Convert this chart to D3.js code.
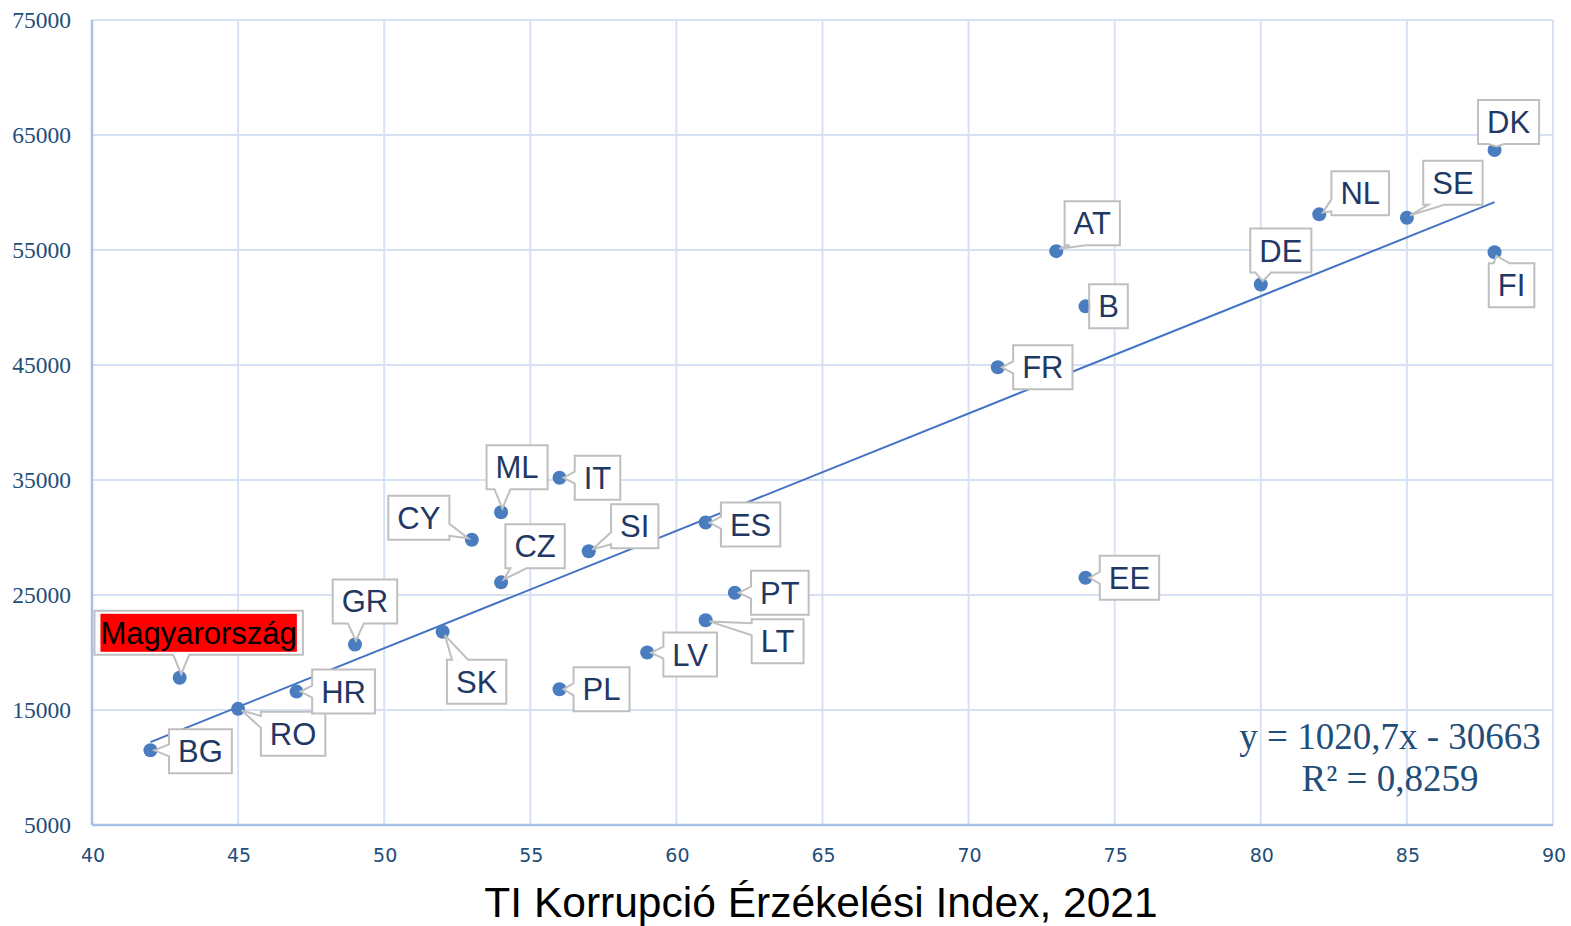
<!DOCTYPE html>
<html lang="hu">
  <head>
    <meta charset="UTF-8" />
    <title>GDP vs TI Korrupció Érzékelési Index</title>
    <script src="https://d3js.org/d3.v7.min.js"></script>
    <style>
      body { margin: 0; background: #fff; }
      .grid line { stroke: #d6e2f3; stroke-width: 2; }
      .tick-y text { font-family: 'Liberation Serif', 'Times New Roman', serif; font-size: 23.5px; fill: #1f4e79; }
      .tick-x text { font-family: 'DejaVu Sans', sans-serif; font-size: 19px; fill: #1f4e79; }
      .lbl { font-family: 'Liberation Sans', Arial, sans-serif; font-size: 31px; fill: #1f3864; }
    </style>
  </head>
  <body>
    <div id="chart"></div>
    <script>
      // data
      const countries = ['BG', 'Magyarország', 'RO', 'HR', 'GR', 'SK', 'CY', 'ML', 'CZ', 'IT', 'SI', 'PL', 'LV',
        'ES', 'PT', 'LT', 'FR', 'AT', 'B', 'EE', 'DE', 'NL', 'SE', 'DK', 'FI'];
      const cpi = [42, 43, 45, 47, 49, 52, 53, 54, 54, 56, 57, 56, 59, 61, 62, 61, 71, 73, 74, 74, 80, 82, 85, 88, 88];
      const gdp = [11500, 17800, 15100, 16600, 20700, 21800, 29800, 32200, 26100, 35200, 28800, 16800, 20000,
        31300, 25200, 22800, 44800, 54900, 50100, 26500, 52000, 58100, 57800, 63700, 54800];
      const xTicks = [40, 45, 50, 55, 60, 65, 70, 75, 80, 85, 90];
      const yTicks = [5000, 15000, 25000, 35000, 45000, 55000, 65000, 75000];
      const trendSlope = 1020.7;
      const trendIntercept = -30663;
      const trendRange = [42, 88];
      const eqLines = ['y = 1020,7x - 30663', 'R² = 0,8259'];
      const xTitle = 'TI Korrupció Érzékelési Index, 2021';
      const highlight = 'Magyarország';

      // label box placement: offset of box centre from point, and side the tail leaves from
      const labelPos = [
        [50, 1, 'left'], [19, -45, 'bottom'], [55, 25, 'left'], [47, 0, 'left'], [10, -43, 'bottom'],
        [34, 50, 'top'], [-53, -22, 'right'], [16, -45, 'bottom'], [34, -36, 'bottom'], [38, 0, 'left'],
        [46, -25, 'left'], [42, 0, 'left'], [43, 2, 'left'], [45, 2, 'left'], [45, 0, 'left'],
        [72, 21, 'left'], [45, 0, 'left'], [36, -28, 'bottom'], [23, 0, 'left'], [44, 0, 'left'],
        [20, -34, 'bottom'], [41, -21, 'left'], [46, -35, 'bottom'], [14, -28, 'bottom'], [17, 33, 'top'],
      ];

      const W = 1571, H = 926;
      const svg = d3.select('#chart').append('svg').attr('width', W).attr('height', H);

      const x = d3.scaleLinear().domain([40, 90]).range([92, 1553]);
      const y = d3.scaleLinear().domain([5000, 75000]).range([825, 20]);

      // gridlines
      const grid = svg.append('g').attr('class', 'grid');
      grid.selectAll('.gx').data(xTicks).enter().append('line')
        .attr('x1', d => x(d)).attr('x2', d => x(d)).attr('y1', y(75000)).attr('y2', y(5000));
      grid.selectAll('.gy').data(yTicks).enter().append('line')
        .attr('x1', x(40)).attr('x2', x(90)).attr('y1', d => y(d)).attr('y2', d => y(d));

      // axis lines
      svg.append('line').attr('x1', x(40)).attr('x2', x(40)).attr('y1', y(75000)).attr('y2', y(5000))
        .attr('stroke', '#a7c1e6').attr('stroke-width', 2.5);
      svg.append('line').attr('x1', x(40)).attr('x2', x(90)).attr('y1', y(5000)).attr('y2', y(5000))
        .attr('stroke', '#a7c1e6').attr('stroke-width', 2.5);

      // tick labels
      svg.append('g').attr('class', 'tick-y').selectAll('text').data(yTicks).enter().append('text')
        .attr('x', 71).attr('y', d => y(d) + 8).attr('text-anchor', 'end').text(d => d);
      svg.append('g').attr('class', 'tick-x').selectAll('text').data(xTicks).enter().append('text')
        .attr('x', d => x(d) + 1).attr('y', 862).attr('text-anchor', 'middle').text(d => d);

      // trendline
      svg.append('line')
        .attr('x1', x(trendRange[0])).attr('y1', y(trendSlope * trendRange[0] + trendIntercept))
        .attr('x2', x(trendRange[1])).attr('y2', y(trendSlope * trendRange[1] + trendIntercept))
        .attr('stroke', '#4472c4').attr('stroke-width', 2);

      // points
      const pts = countries.map((c, i) => ({ name: c, cx: x(cpi[i]), cy: y(gdp[i]), pos: labelPos[i] }));
      svg.append('g').selectAll('circle').data(pts).enter().append('circle')
        .attr('cx', d => d.cx).attr('cy', d => d.cy).attr('r', 7).attr('fill', '#4a7dbf');

      const clamp = (v, a, b) => Math.max(a, Math.min(b, v));

      function callout(x0, y0, x1, y1, px, py, side) {
        let c;
        if (side === 'left') {
          c = clamp(py, y0 + 10, y1 - 10);
          return `M${x0},${y0}H${x1}V${y1}H${x0}V${c + 6}L${px},${py}L${x0},${c - 6}Z`;
        }
        if (side === 'right') {
          c = clamp(py, y0 + 10, y1 - 10);
          return `M${x0},${y0}H${x1}V${c - 6}L${px},${py}L${x1},${c + 6}V${y1}H${x0}Z`;
        }
        if (side === 'bottom') {
          c = clamp(px, x0 + 13, x1 - 13);
          return `M${x0},${y0}H${x1}V${y1}H${c + 8}L${px},${py}L${c - 8},${y1}H${x0}Z`;
        }
        c = clamp(px, x0 + 13, x1 - 13);
        return `M${x0},${y0}H${c - 8}L${px},${py}L${c + 8},${y0}H${x1}V${y1}H${x0}Z`;
      }

      const labels = svg.append('g');
      pts.forEach(d => {
        const g = labels.append('g');
        const bx = d.cx + d.pos[0], by = d.cy + d.pos[1];
        const path = g.append('path');
        const t = g.append('text').attr('class', 'lbl').attr('x', bx).attr('y', by + 11)
          .attr('text-anchor', 'middle').text(d.name);
        const tw = t.node().getComputedTextLength();
        const pad = d.name === highlight ? 6 : 9;
        const x0 = bx - tw / 2 - pad, x1 = bx + tw / 2 + pad;
        const y0 = by - 22, y1 = by + 22;
        // tail tip stops just inside the marker
        const ang = Math.atan2(by - d.cy, bx - d.cx);
        const tx = d.cx + Math.cos(ang) * 4, ty = d.cy + Math.sin(ang) * 4;
        path.attr('d', callout(x0, y0, x1, y1, tx, ty, d.pos[2]))
          .attr('fill', '#fff').attr('stroke', '#bfbfbf').attr('stroke-width', 2);
        if (d.name === highlight) {
          g.insert('rect', 'text').attr('x', x0 + 6).attr('y', y0 + 3).attr('width', x1 - x0 - 12)
            .attr('height', y1 - y0 - 6).attr('fill', '#ff0000');
          t.style('fill', '#000');
        }
      });

      // equation
      const eq = svg.append('text').attr('text-anchor', 'middle')
        .style('font-family', "'Liberation Serif', 'Times New Roman', serif").style('font-size', '37px')
        .style('fill', '#1f4e79');
      eq.selectAll('tspan').data(eqLines).enter().append('tspan')
        .attr('x', 1390).attr('y', (d, i) => 749 + i * 42).text(d => d);

      // x axis title
      svg.append('text').attr('x', 821).attr('y', 917).attr('text-anchor', 'middle')
        .style('font-family', "'Liberation Sans', Arial, sans-serif").style('font-size', '42.5px')
        .style('fill', '#000').text(xTitle);
    </script>
  </body>
</html>
